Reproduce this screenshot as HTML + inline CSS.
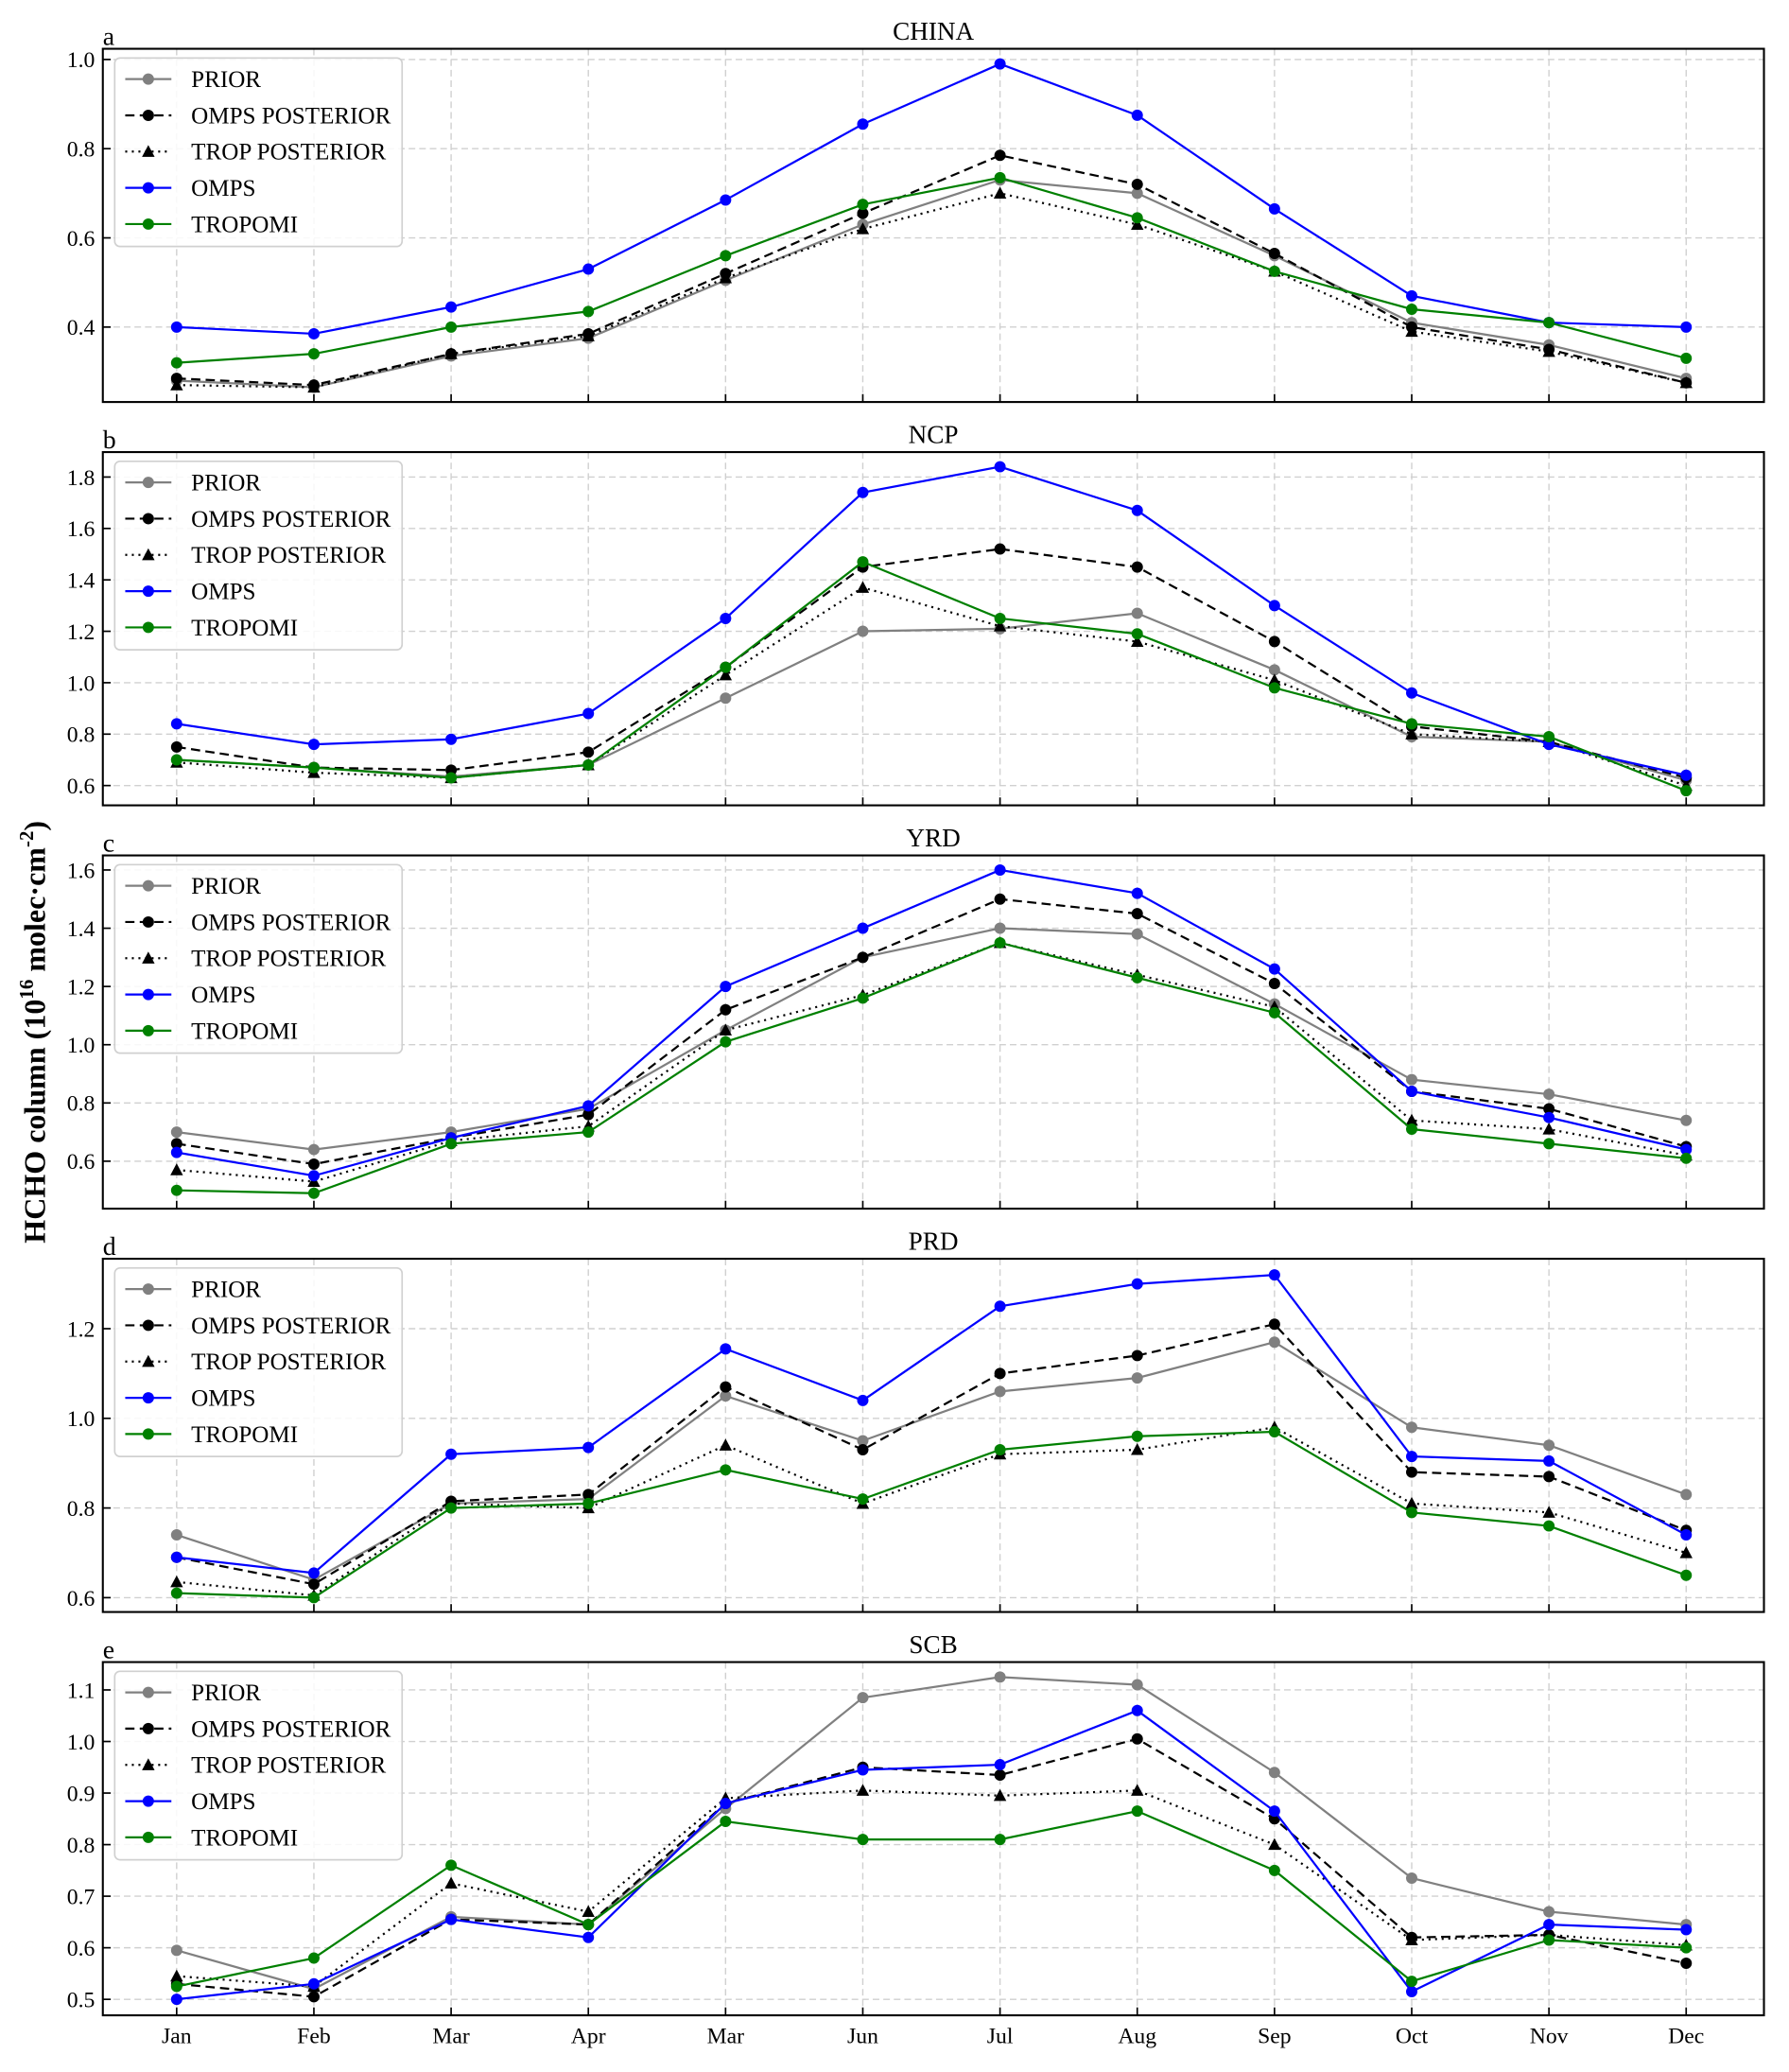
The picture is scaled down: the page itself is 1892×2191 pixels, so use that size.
<!DOCTYPE html>
<html><head><meta charset="utf-8"><style>
html,body{margin:0;padding:0;background:#fff;}
svg{display:block;font-family:"Liberation Serif",serif;}
</style></head><body>
<svg id="chart" width="1892" height="2191" viewBox="0 0 1357 1572" preserveAspectRatio="none" xmlns="http://www.w3.org/2000/svg">
<text transform="translate(34,783) rotate(-90)" text-anchor="middle" font-size="23" font-weight="bold">HCHO column (10<tspan dy="-9" font-size="15">16</tspan><tspan dy="9"> molec·cm</tspan><tspan dy="-9" font-size="15">-2</tspan><tspan dy="9">)</tspan></text>
</svg>
<script>
const months = ["Jan","Feb","Mar","Apr","Mar","Jun","Jul","Aug","Sep","Oct","Nov","Dec"];
const seriesNames = ["PRIOR","OMPS POSTERIOR","TROP POSTERIOR","OMPS","TROPOMI"];
const panelTitles = ["CHINA","NCP","YRD","PRD","SCB"];
const panelLetters = ["a","b","c","d","e"];
const yTicksA = [0.4,0.6,0.8,1.0];
const yTicksB = [0.6,0.8,1.0,1.2,1.4,1.6,1.8];
const yTicksC = [0.6,0.8,1.0,1.2,1.4,1.6];
const yTicksD = [0.6,0.8,1.0,1.2];
const yTicksE = [0.5,0.6,0.7,0.8,0.9,1.0,1.1];
const yRangeA = [0.232,1.024];
const yRangeB = [0.523,1.897];
const yRangeC = [0.437,1.65];
const yRangeD = [0.568,1.356];
const yRangeE = [0.469,1.154];
const chinaPrior = [0.28,0.265,0.335,0.375,0.505,0.63,0.73,0.70,0.56,0.41,0.36,0.285];
const chinaOmpsPost = [0.285,0.27,0.34,0.385,0.52,0.655,0.785,0.72,0.565,0.40,0.35,0.275];
const chinaTropPost = [0.27,0.265,0.34,0.38,0.51,0.62,0.70,0.63,0.525,0.39,0.345,0.275];
const chinaOmps = [0.40,0.385,0.445,0.53,0.685,0.855,0.99,0.875,0.665,0.47,0.41,0.40];
const chinaTropomi = [0.32,0.34,0.40,0.435,0.56,0.675,0.735,0.645,0.525,0.44,0.41,0.33];
const ncpPrior = [0.70,0.67,0.635,0.68,0.94,1.20,1.21,1.27,1.05,0.79,0.77,0.62];
const ncpOmpsPost = [0.75,0.67,0.66,0.73,1.06,1.45,1.52,1.45,1.16,0.83,0.77,0.63];
const ncpTropPost = [0.69,0.65,0.63,0.68,1.03,1.37,1.22,1.16,1.01,0.80,0.77,0.60];
const ncpOmps = [0.84,0.76,0.78,0.88,1.25,1.74,1.84,1.67,1.30,0.96,0.76,0.64];
const ncpTropomi = [0.70,0.67,0.63,0.68,1.06,1.47,1.25,1.19,0.98,0.84,0.79,0.58];
const yrdPrior = [0.70,0.64,0.70,0.78,1.05,1.30,1.40,1.38,1.14,0.88,0.83,0.74];
const yrdOmpsPost = [0.66,0.59,0.68,0.76,1.12,1.30,1.50,1.45,1.21,0.84,0.78,0.65];
const yrdTropPost = [0.57,0.53,0.67,0.72,1.05,1.17,1.35,1.24,1.13,0.74,0.71,0.62];
const yrdOmps = [0.63,0.55,0.68,0.79,1.20,1.40,1.60,1.52,1.26,0.84,0.75,0.64];
const yrdTropomi = [0.50,0.49,0.66,0.70,1.01,1.16,1.35,1.23,1.11,0.71,0.66,0.61];
const prdPrior = [0.74,0.64,0.81,0.82,1.05,0.95,1.06,1.09,1.17,0.98,0.94,0.83];
const prdOmpsPost = [0.69,0.63,0.815,0.83,1.07,0.93,1.10,1.14,1.21,0.88,0.87,0.75];
const prdTropPost = [0.635,0.605,0.81,0.80,0.94,0.81,0.92,0.93,0.98,0.81,0.79,0.70];
const prdOmps = [0.69,0.655,0.92,0.935,1.155,1.04,1.25,1.30,1.32,0.915,0.905,0.74];
const prdTropomi = [0.61,0.60,0.80,0.81,0.885,0.82,0.93,0.96,0.97,0.79,0.76,0.65];
const scbPrior = [0.595,0.52,0.66,0.645,0.87,1.085,1.125,1.11,0.94,0.735,0.67,0.645];
const scbOmpsPost = [0.53,0.505,0.655,0.645,0.88,0.95,0.935,1.005,0.85,0.62,0.625,0.57];
const scbTropPost = [0.545,0.525,0.725,0.67,0.89,0.905,0.895,0.905,0.80,0.615,0.625,0.605];
const scbOmps = [0.50,0.53,0.655,0.62,0.88,0.945,0.955,1.06,0.865,0.515,0.645,0.635];
const scbTropomi = [0.525,0.58,0.76,0.645,0.845,0.81,0.81,0.865,0.75,0.535,0.615,0.60];

const panelData = [
 [chinaPrior,chinaOmpsPost,chinaTropPost,chinaOmps,chinaTropomi],
 [ncpPrior,ncpOmpsPost,ncpTropPost,ncpOmps,ncpTropomi],
 [yrdPrior,yrdOmpsPost,yrdTropPost,yrdOmps,yrdTropomi],
 [prdPrior,prdOmpsPost,prdTropPost,prdOmps,prdTropomi],
 [scbPrior,scbOmpsPost,scbTropPost,scbOmps,scbTropomi]];
const panelTicks = [yTicksA,yTicksB,yTicksC,yTicksD,yTicksE];
const panelRanges = [yRangeA,yRangeB,yRangeC,yRangeD,yRangeE];

const NS="http://www.w3.org/2000/svg";
const svg=document.getElementById('chart');
function mk(tag,attrs,parent){const e=document.createElementNS(NS,tag);for(const k in attrs)e.setAttribute(k,attrs[k]);(parent||svg).appendChild(e);return e;}
const L=78,R=1338,H=268;
const tops=[37,343,649,955,1261];
const styles=[
 {c:'#808080',dash:'',m:'circle'},
 {c:'#000',dash:'7,4',m:'circle'},
 {c:'#000',dash:'1.5,3.5',m:'tri'},
 {c:'#0000ff',dash:'',m:'circle'},
 {c:'#008000',dash:'',m:'circle'}];
function xs(i){return 134+i*(1279-134)/11;}
function marker(g,m,x,y,c){
 if(m==='circle'){mk('circle',{cx:x,cy:y,r:4.3,fill:c},g);}
 else{mk('polygon',{points:`${x},${y-5} ${x-4.8},${y+4} ${x+4.8},${y+4}`,fill:c},g);}
}
panelData.forEach((series,p)=>{
 const T=tops[p],B=T+H,rng=panelRanges[p];
 const ys=v=>B-(v-rng[0])/(rng[1]-rng[0])*H;
 const g=mk('g',{});
 
 
 months.forEach((m,i)=>{mk('line',{x1:xs(i),x2:xs(i),y1:T,y2:B,stroke:'#d0d0d0','stroke-dasharray':'5,3','stroke-width':1},g);
  mk('line',{x1:xs(i),x2:xs(i),y1:B,y2:B-6,stroke:'#000','stroke-width':1.2},g);});
 panelTicks[p].forEach(v=>{const y=ys(v);
  mk('line',{x1:L,x2:R,y1:y,y2:y,stroke:'#d0d0d0','stroke-dasharray':'5,3','stroke-width':1},g);
  mk('line',{x1:L,x2:L+6,y1:y,y2:y,stroke:'#000','stroke-width':1.2},g);
  const t=mk('text',{x:L-6,y:y+6,'text-anchor':'end','font-size':17},g);
  
  
  t.textContent=v.toFixed(1);});
 series.forEach((vals,s)=>{const st=styles[s];
  const sg=mk('g',{},g);
  
  
  const pts=vals.map((v,i)=>xs(i)+','+ys(v)).join(' ');
  const pl=mk('polyline',{points:pts,fill:'none',stroke:st.c,'stroke-width':1.6},sg);
  if(st.dash)pl.setAttribute('stroke-dasharray',st.dash);
  vals.forEach((v,i)=>marker(sg,st.m,xs(i),ys(v),st.c));
 });
 mk('rect',{x:L,y:T,width:R-L,height:H,fill:'none',stroke:'#000','stroke-width':1.5},g);
 const tt=mk('text',{x:(L+R)/2,y:T-7,'text-anchor':'middle','font-size':19.5},g);
 
 
 tt.textContent=panelTitles[p];
 const lt=mk('text',{x:L,y:T-3,'font-size':20},g);
 
 
 lt.textContent=panelLetters[p];
 const lg=mk('g',{},g);
 
 
 mk('rect',{x:87,y:T+7,width:218,height:143,rx:4,fill:'#fff','fill-opacity':0.85,stroke:'#d0d0d0','stroke-width':1.2},lg);
 seriesNames.forEach((n,s)=>{const st=styles[s];const y=T+23+s*27.5;
  const eg=mk('g',{},lg);
  
  
  const ln=mk('line',{x1:95,x2:130,y1:y,y2:y,stroke:st.c,'stroke-width':1.6},eg);
  if(st.dash)ln.setAttribute('stroke-dasharray',st.dash);
  marker(eg,st.m,112.5,y,st.c);
  const t=mk('text',{x:145,y:y+6,'font-size':18},eg);t.textContent=n;});
 if(p===4){months.forEach((m,i)=>{const t=mk('text',{x:xs(i),y:B+21,'text-anchor':'middle','font-size':17},g);
  
  
  t.textContent=m;});}
});
</script>
</body></html>
